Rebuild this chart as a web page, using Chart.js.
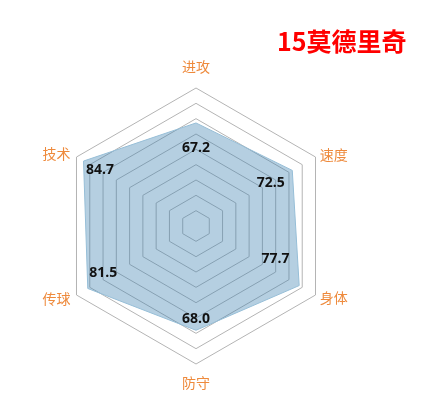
<!DOCTYPE html>
<html>
<head>
<meta charset="utf-8">
<script src="https://cdn.jsdelivr.net/npm/chart.js@4.4.1/dist/chart.umd.min.js"></script>
<style>
  html, body { margin: 0; padding: 0; background: #ffffff; }
  #wrap { position: relative; width: 447px; height: 407px; }
</style>
</head>
<body>
<div id="wrap"><canvas id="c"></canvas></div>
<script>
// ---- data ----
const titleText = '15莫德里奇';
const categories = ['进攻', '速度', '身体', '防守', '传球', '技术'];
const values = [67.2, 72.5, 77.7, 68.0, 81.5, 84.7];
const scaleMin = 0;
const scaleMax = 90;
const scaleStep = 10;

// ---- styling (positions of text relative to the scale) ----
const catPad = [21, 5, 5, 19, 7, 7];
const catAlign = ['center', 'left', 'left', 'center', 'right', 'right'];
const valueOffsets = [[0, 25], [-21.5, 12.3], [-23.7, -26.3], [0, -11.3], [15.5, -15.2], [16.5, 8.9]];

const textPlugin = {
  id: 'textPlugin',
  afterDatasetsDraw(chart) {
    const scale = chart.scales.r;
    const ctx = chart.ctx;
    ctx.save();
    // category labels
    ctx.font = '14px "Noto Sans CJK SC", sans-serif';
    ctx.fillStyle = '#EE8A3C';
    ctx.textBaseline = 'middle';
    categories.forEach((c, i) => {
      const p = scale.getPointPosition(i, scale.drawingArea + catPad[i]);
      ctx.textAlign = catAlign[i];
      ctx.fillText(c, p.x, p.y);
    });
    // value labels
    ctx.font = 'bold 14px "Open Sans", sans-serif';
    ctx.fillStyle = '#111111';
    ctx.textAlign = 'center';
    values.forEach((v, i) => {
      const p = scale.getPointPositionForValue(i, v);
      ctx.fillText(v.toFixed(1), p.x + valueOffsets[i][0], p.y + valueOffsets[i][1]);
    });
    // title
    ctx.font = 'bold 25px "Noto Sans CJK SC", sans-serif';
    ctx.fillStyle = '#FF0000';
    ctx.textAlign = 'left';
    ctx.fillText(titleText, 277, 41);
    ctx.restore();
  }
};

new Chart(document.getElementById('c'), {
  type: 'radar',
  data: {
    labels: categories,
    datasets: [{
      data: values,
      fill: true,
      backgroundColor: 'rgba(60,130,175,0.38)',
      borderColor: 'rgba(150,190,215,1)',
      borderWidth: 1,
      pointRadius: 0,
      pointHoverRadius: 0
    }]
  },
  options: {
    responsive: true,
    maintainAspectRatio: false,
    animation: false,
    layout: { padding: { left: 58, top: 88, right: 113, bottom: 43 } },
    plugins: {
      legend: { display: false },
      title: { display: false },
      tooltip: { enabled: false }
    },
    scales: {
      r: {
        min: scaleMin,
        max: scaleMax,
        ticks: { display: false, stepSize: scaleStep },
        grid: { color: '#b4b4b4', lineWidth: 1, circular: false },
        angleLines: { display: false },
        pointLabels: { display: false }
      }
    }
  },
  plugins: [textPlugin]
});
</script>
</body>
</html>
